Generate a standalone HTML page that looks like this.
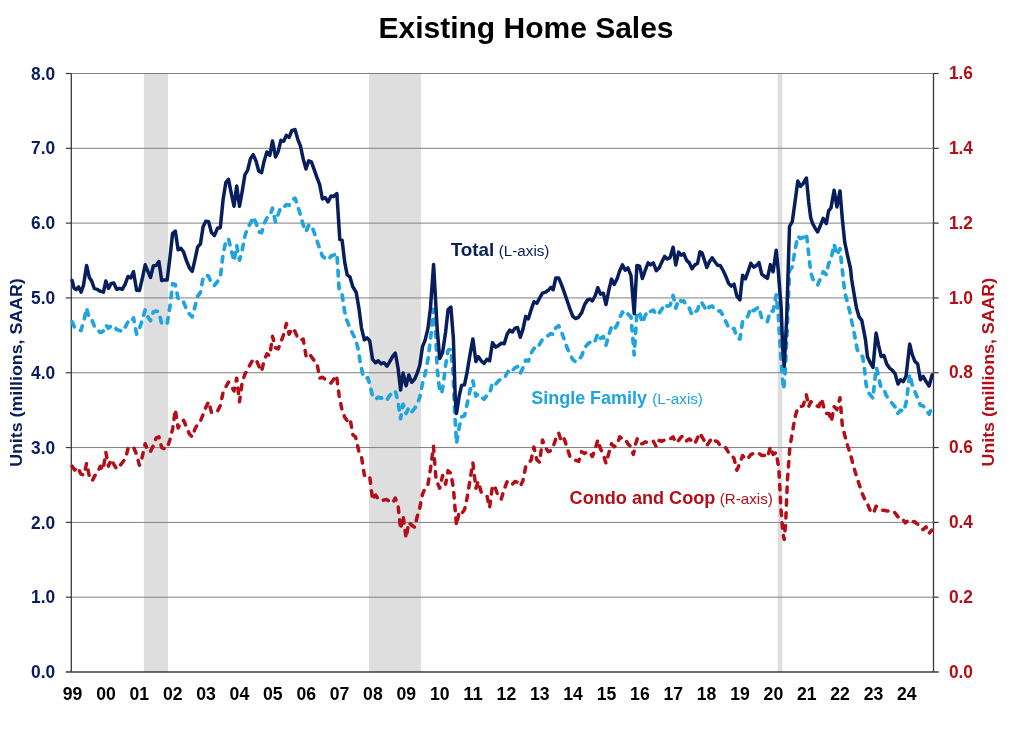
<!DOCTYPE html>
<html><head><meta charset="utf-8"><title>Existing Home Sales</title>
<style>html,body{margin:0;padding:0;background:#fff}svg{display:block;will-change:transform}text{font-family:"Liberation Sans",sans-serif}</style></head>
<body><svg width="1024" height="742" viewBox="0 0 1024 742">
<rect width="1024" height="742" fill="#fff"/>
<rect x="143.9" y="73.5" width="24.1" height="598.5" fill="#dedede"/>
<rect x="369.1" y="73.5" width="51.8" height="598.5" fill="#dedede"/>
<rect x="777.6" y="73.5" width="4.8" height="598.5" fill="#dedede"/>
<line x1="71.3" x2="933.5" y1="73.50" y2="73.50" stroke="#808080" stroke-width="1"/>
<line x1="71.3" x2="933.5" y1="148.31" y2="148.31" stroke="#808080" stroke-width="1"/>
<line x1="71.3" x2="933.5" y1="223.12" y2="223.12" stroke="#808080" stroke-width="1"/>
<line x1="71.3" x2="933.5" y1="297.94" y2="297.94" stroke="#808080" stroke-width="1"/>
<line x1="71.3" x2="933.5" y1="372.75" y2="372.75" stroke="#808080" stroke-width="1"/>
<line x1="71.3" x2="933.5" y1="447.56" y2="447.56" stroke="#808080" stroke-width="1"/>
<line x1="71.3" x2="933.5" y1="522.38" y2="522.38" stroke="#808080" stroke-width="1"/>
<line x1="71.3" x2="933.5" y1="597.19" y2="597.19" stroke="#808080" stroke-width="1"/>
<line x1="71.3" x2="71.3" y1="73.5" y2="672.0" stroke="#3a3a3a" stroke-width="1.3"/>
<line x1="933.5" x2="933.5" y1="73.5" y2="672.0" stroke="#3a3a3a" stroke-width="1.3"/>
<line x1="65.8" x2="938.7" y1="672.0" y2="672.0" stroke="#3a3a3a" stroke-width="1.3"/>
<line x1="65.8" x2="71.3" y1="73.50" y2="73.50" stroke="#3a3a3a" stroke-width="1.2"/>
<line x1="933.5" x2="938.7" y1="73.50" y2="73.50" stroke="#3a3a3a" stroke-width="1.2"/>
<line x1="65.8" x2="71.3" y1="148.31" y2="148.31" stroke="#3a3a3a" stroke-width="1.2"/>
<line x1="933.5" x2="938.7" y1="148.31" y2="148.31" stroke="#3a3a3a" stroke-width="1.2"/>
<line x1="65.8" x2="71.3" y1="223.12" y2="223.12" stroke="#3a3a3a" stroke-width="1.2"/>
<line x1="933.5" x2="938.7" y1="223.12" y2="223.12" stroke="#3a3a3a" stroke-width="1.2"/>
<line x1="65.8" x2="71.3" y1="297.94" y2="297.94" stroke="#3a3a3a" stroke-width="1.2"/>
<line x1="933.5" x2="938.7" y1="297.94" y2="297.94" stroke="#3a3a3a" stroke-width="1.2"/>
<line x1="65.8" x2="71.3" y1="372.75" y2="372.75" stroke="#3a3a3a" stroke-width="1.2"/>
<line x1="933.5" x2="938.7" y1="372.75" y2="372.75" stroke="#3a3a3a" stroke-width="1.2"/>
<line x1="65.8" x2="71.3" y1="447.56" y2="447.56" stroke="#3a3a3a" stroke-width="1.2"/>
<line x1="933.5" x2="938.7" y1="447.56" y2="447.56" stroke="#3a3a3a" stroke-width="1.2"/>
<line x1="65.8" x2="71.3" y1="522.38" y2="522.38" stroke="#3a3a3a" stroke-width="1.2"/>
<line x1="933.5" x2="938.7" y1="522.38" y2="522.38" stroke="#3a3a3a" stroke-width="1.2"/>
<line x1="65.8" x2="71.3" y1="597.19" y2="597.19" stroke="#3a3a3a" stroke-width="1.2"/>
<line x1="933.5" x2="938.7" y1="597.19" y2="597.19" stroke="#3a3a3a" stroke-width="1.2"/>
<text x="55.2" y="79.6" text-anchor="end" font-size="18.3" textLength="24.1" lengthAdjust="spacingAndGlyphs" font-weight="bold" fill="#081e5c">8.0</text>
<text x="948.9" y="79.1" font-size="18.3" textLength="24.1" lengthAdjust="spacingAndGlyphs" font-weight="bold" fill="#b40f18">1.6</text>
<text x="55.2" y="154.4" text-anchor="end" font-size="18.3" textLength="24.1" lengthAdjust="spacingAndGlyphs" font-weight="bold" fill="#081e5c">7.0</text>
<text x="948.9" y="153.9" font-size="18.3" textLength="24.1" lengthAdjust="spacingAndGlyphs" font-weight="bold" fill="#b40f18">1.4</text>
<text x="55.2" y="229.2" text-anchor="end" font-size="18.3" textLength="24.1" lengthAdjust="spacingAndGlyphs" font-weight="bold" fill="#081e5c">6.0</text>
<text x="948.9" y="228.7" font-size="18.3" textLength="24.1" lengthAdjust="spacingAndGlyphs" font-weight="bold" fill="#b40f18">1.2</text>
<text x="55.2" y="304.0" text-anchor="end" font-size="18.3" textLength="24.1" lengthAdjust="spacingAndGlyphs" font-weight="bold" fill="#081e5c">5.0</text>
<text x="948.9" y="303.5" font-size="18.3" textLength="24.1" lengthAdjust="spacingAndGlyphs" font-weight="bold" fill="#b40f18">1.0</text>
<text x="55.2" y="378.9" text-anchor="end" font-size="18.3" textLength="24.1" lengthAdjust="spacingAndGlyphs" font-weight="bold" fill="#081e5c">4.0</text>
<text x="948.9" y="378.4" font-size="18.3" textLength="24.1" lengthAdjust="spacingAndGlyphs" font-weight="bold" fill="#b40f18">0.8</text>
<text x="55.2" y="453.7" text-anchor="end" font-size="18.3" textLength="24.1" lengthAdjust="spacingAndGlyphs" font-weight="bold" fill="#081e5c">3.0</text>
<text x="948.9" y="453.2" font-size="18.3" textLength="24.1" lengthAdjust="spacingAndGlyphs" font-weight="bold" fill="#b40f18">0.6</text>
<text x="55.2" y="528.5" text-anchor="end" font-size="18.3" textLength="24.1" lengthAdjust="spacingAndGlyphs" font-weight="bold" fill="#081e5c">2.0</text>
<text x="948.9" y="528.0" font-size="18.3" textLength="24.1" lengthAdjust="spacingAndGlyphs" font-weight="bold" fill="#b40f18">0.4</text>
<text x="55.2" y="603.3" text-anchor="end" font-size="18.3" textLength="24.1" lengthAdjust="spacingAndGlyphs" font-weight="bold" fill="#081e5c">1.0</text>
<text x="948.9" y="602.8" font-size="18.3" textLength="24.1" lengthAdjust="spacingAndGlyphs" font-weight="bold" fill="#b40f18">0.2</text>
<text x="55.2" y="678.1" text-anchor="end" font-size="18.3" textLength="24.1" lengthAdjust="spacingAndGlyphs" font-weight="bold" fill="#081e5c">0.0</text>
<text x="948.9" y="677.6" font-size="18.3" textLength="24.1" lengthAdjust="spacingAndGlyphs" font-weight="bold" fill="#b40f18">0.0</text>
<text x="72.6" y="699.9" text-anchor="middle" font-size="18.6" textLength="19.6" lengthAdjust="spacingAndGlyphs" font-weight="bold" fill="#000">99</text>
<text x="106.0" y="699.9" text-anchor="middle" font-size="18.6" textLength="19.6" lengthAdjust="spacingAndGlyphs" font-weight="bold" fill="#000">00</text>
<text x="139.3" y="699.9" text-anchor="middle" font-size="18.6" textLength="19.6" lengthAdjust="spacingAndGlyphs" font-weight="bold" fill="#000">01</text>
<text x="172.7" y="699.9" text-anchor="middle" font-size="18.6" textLength="19.6" lengthAdjust="spacingAndGlyphs" font-weight="bold" fill="#000">02</text>
<text x="206.1" y="699.9" text-anchor="middle" font-size="18.6" textLength="19.6" lengthAdjust="spacingAndGlyphs" font-weight="bold" fill="#000">03</text>
<text x="239.4" y="699.9" text-anchor="middle" font-size="18.6" textLength="19.6" lengthAdjust="spacingAndGlyphs" font-weight="bold" fill="#000">04</text>
<text x="272.8" y="699.9" text-anchor="middle" font-size="18.6" textLength="19.6" lengthAdjust="spacingAndGlyphs" font-weight="bold" fill="#000">05</text>
<text x="306.2" y="699.9" text-anchor="middle" font-size="18.6" textLength="19.6" lengthAdjust="spacingAndGlyphs" font-weight="bold" fill="#000">06</text>
<text x="339.6" y="699.9" text-anchor="middle" font-size="18.6" textLength="19.6" lengthAdjust="spacingAndGlyphs" font-weight="bold" fill="#000">07</text>
<text x="372.9" y="699.9" text-anchor="middle" font-size="18.6" textLength="19.6" lengthAdjust="spacingAndGlyphs" font-weight="bold" fill="#000">08</text>
<text x="406.3" y="699.9" text-anchor="middle" font-size="18.6" textLength="19.6" lengthAdjust="spacingAndGlyphs" font-weight="bold" fill="#000">09</text>
<text x="439.7" y="699.9" text-anchor="middle" font-size="18.6" textLength="19.6" lengthAdjust="spacingAndGlyphs" font-weight="bold" fill="#000">10</text>
<text x="473.0" y="699.9" text-anchor="middle" font-size="18.6" textLength="19.6" lengthAdjust="spacingAndGlyphs" font-weight="bold" fill="#000">11</text>
<text x="506.4" y="699.9" text-anchor="middle" font-size="18.6" textLength="19.6" lengthAdjust="spacingAndGlyphs" font-weight="bold" fill="#000">12</text>
<text x="539.8" y="699.9" text-anchor="middle" font-size="18.6" textLength="19.6" lengthAdjust="spacingAndGlyphs" font-weight="bold" fill="#000">13</text>
<text x="573.1" y="699.9" text-anchor="middle" font-size="18.6" textLength="19.6" lengthAdjust="spacingAndGlyphs" font-weight="bold" fill="#000">14</text>
<text x="606.5" y="699.9" text-anchor="middle" font-size="18.6" textLength="19.6" lengthAdjust="spacingAndGlyphs" font-weight="bold" fill="#000">15</text>
<text x="639.9" y="699.9" text-anchor="middle" font-size="18.6" textLength="19.6" lengthAdjust="spacingAndGlyphs" font-weight="bold" fill="#000">16</text>
<text x="673.3" y="699.9" text-anchor="middle" font-size="18.6" textLength="19.6" lengthAdjust="spacingAndGlyphs" font-weight="bold" fill="#000">17</text>
<text x="706.6" y="699.9" text-anchor="middle" font-size="18.6" textLength="19.6" lengthAdjust="spacingAndGlyphs" font-weight="bold" fill="#000">18</text>
<text x="740.0" y="699.9" text-anchor="middle" font-size="18.6" textLength="19.6" lengthAdjust="spacingAndGlyphs" font-weight="bold" fill="#000">19</text>
<text x="773.4" y="699.9" text-anchor="middle" font-size="18.6" textLength="19.6" lengthAdjust="spacingAndGlyphs" font-weight="bold" fill="#000">20</text>
<text x="806.7" y="699.9" text-anchor="middle" font-size="18.6" textLength="19.6" lengthAdjust="spacingAndGlyphs" font-weight="bold" fill="#000">21</text>
<text x="840.1" y="699.9" text-anchor="middle" font-size="18.6" textLength="19.6" lengthAdjust="spacingAndGlyphs" font-weight="bold" fill="#000">22</text>
<text x="873.5" y="699.9" text-anchor="middle" font-size="18.6" textLength="19.6" lengthAdjust="spacingAndGlyphs" font-weight="bold" fill="#000">23</text>
<text x="906.8" y="699.9" text-anchor="middle" font-size="18.6" textLength="19.6" lengthAdjust="spacingAndGlyphs" font-weight="bold" fill="#000">24</text>
<text x="526" y="37.6" text-anchor="middle" font-size="30" font-weight="bold" fill="#000">Existing Home Sales</text>
<text transform="translate(21.8,372.6) rotate(-90)" text-anchor="middle" font-size="16.8" textLength="188.5" lengthAdjust="spacingAndGlyphs" font-weight="bold" fill="#081e5c">Units (millions, SAAR)</text>
<text transform="translate(994.3,372.2) rotate(-90)" text-anchor="middle" font-size="16.8" textLength="188.5" lengthAdjust="spacingAndGlyphs" font-weight="bold" fill="#b40f18">Units (millions, SAAR)</text>
<polyline fill="none" stroke="#b40f18" stroke-width="3.5" stroke-linejoin="round" stroke-linecap="round" stroke-dasharray="5.4 7.4" points="72.1,466.2 74.7,470.1 77.6,467.2 80.9,474.0 83.9,475.0 86.6,463.3 89.3,476.0 92.3,480.9 94.8,475.6 97.5,473.1 100.3,466.2 103.0,470.1 105.9,452.5 108.5,466.2 111.2,459.4 114.0,464.6 116.7,469.1 119.6,466.2 122.6,462.3 125.5,458.4 128.0,448.6 130.8,446.7 133.5,447.1 136.6,454.5 139.4,465.2 142.1,457.4 145.2,443.7 148.0,451.5 150.5,451.5 153.3,445.7 156.2,437.9 158.9,436.9 161.7,447.6 164.4,448.6 167.1,448.6 169.9,439.8 172.6,429.1 175.3,409.5 178.1,428.1 180.8,422.2 183.6,420.3 186.5,427.1 189.4,434.0 192.2,436.9 194.9,429.1 197.6,424.2 200.4,421.2 203.1,414.4 205.8,407.6 208.6,401.7 211.5,412.4 214.4,413.0 217.4,411.5 220.3,405.6 223.0,392.9 225.8,387.0 228.5,382.1 231.3,386.1 234.0,390.9 236.7,378.2 239.5,401.7 242.2,382.1 244.9,374.3 247.7,369.4 250.6,363.6 253.5,359.1 256.5,360.6 259.4,367.5 261.6,371.4 264.1,360.6 266.9,353.8 269.8,355.7 272.5,336.2 275.5,347.9 278.2,348.9 280.9,342.0 283.7,334.2 286.4,323.5 289.1,334.2 291.9,328.3 295.0,331.3 297.8,338.1 300.5,340.1 303.2,339.1 306.0,355.7 308.7,352.8 311.4,356.7 314.2,360.6 316.9,362.6 319.6,378.2 322.4,377.2 325.1,379.2 328.1,381.1 331.0,383.1 333.7,379.2 336.5,375.3 339.2,395.8 341.9,409.5 344.7,417.3 347.6,421.2 350.1,418.9 352.9,434.9 355.6,436.9 359.0,452.0 361.5,456.9 364.4,475.5 367.0,474.5 369.7,476.5 372.6,499.9 375.6,495.0 378.3,499.0 381.1,500.9 384.0,499.9 386.9,499.5 389.9,501.9 392.8,502.9 395.3,498.0 398.1,505.8 400.6,529.3 403.1,515.6 406.1,538.1 408.8,522.4 411.7,525.3 414.7,527.3 417.2,516.5 419.8,507.8 422.5,494.1 425.2,488.2 428.0,484.3 430.5,468.7 433.5,446.2 435.8,476.5 437.2,482.3 439.7,488.2 442.6,475.5 445.6,484.3 448.1,470.6 450.9,473.5 453.4,488.2 455.3,511.7 456.5,525.3 459.3,511.7 461.6,513.6 464.5,509.7 467.1,498.0 470.0,480.4 472.9,462.8 475.9,488.2 478.2,481.4 481.2,492.1 484.1,494.1 487.0,496.0 489.6,507.8 492.5,485.3 495.4,488.2 498.4,497.0 501.3,499.0 504.2,489.2 507.2,481.4 509.7,481.4 512.4,484.3 515.0,481.4 517.5,482.3 520.3,486.2 523.0,480.4 525.7,466.7 528.3,463.8 531.2,459.9 533.9,447.1 536.9,459.9 539.6,462.3 542.5,439.9 545.4,447.7 548.3,451.6 550.9,450.6 553.2,446.7 555.8,438.9 558.7,433.0 561.4,441.8 564.2,438.9 566.9,446.7 569.9,456.5 572.8,458.4 575.7,460.4 578.7,461.4 581.6,451.6 584.5,453.5 587.4,451.6 590.0,452.6 592.3,456.5 595.3,448.7 597.8,439.9 600.5,448.7 603.3,454.5 606.0,463.3 609.0,452.6 611.5,443.8 614.2,446.7 617.2,444.7 619.7,436.9 622.4,438.9 625.2,438.9 627.9,443.8 630.7,446.7 633.4,454.5 635.9,442.8 637.3,438.9 639.6,443.8 642.4,443.8 645.1,441.8 648.1,442.8 650.6,441.8 653.3,441.2 656.3,446.7 659.2,440.4 661.9,441.2 664.7,439.9 667.4,438.5 670.1,438.9 673.1,436.9 675.8,442.8 678.6,440.4 681.3,436.9 683.8,435.9 686.6,440.8 689.3,438.9 692.0,441.2 694.8,443.8 697.5,437.9 700.0,433.0 702.0,436.9 704.3,440.8 706.8,445.7 709.4,441.8 712.1,437.9 714.9,440.8 717.6,441.8 720.3,445.7 723.1,447.7 725.8,447.7 728.5,452.6 731.3,454.5 734.0,458.4 736.8,470.2 739.9,463.3 742.6,455.5 745.4,459.4 748.1,458.4 750.8,454.5 753.6,453.5 756.3,454.5 759.0,453.5 761.8,455.5 764.5,455.5 767.4,457.4 770.4,446.7 773.1,454.5 776.2,452.6 778.9,469.0 780.9,508.0 782.8,532.0 784.2,539.5 785.6,524.0 787.5,479.0 789.9,446.7 792.3,433.0 795.0,417.4 797.8,407.6 800.5,406.6 803.2,405.6 806.4,394.9 808.7,406.6 810.7,401.7 813.4,402.7 816.1,405.6 818.9,406.6 821.6,398.8 824.3,409.6 826.7,413.5 829.0,413.5 831.4,421.3 834.1,406.6 836.9,409.6 840.0,397.8 842.3,425.2 844.7,435.0 847.6,445.7 850.5,454.5 853.5,466.2 856.4,476.0 859.3,484.8 862.3,493.6 865.2,500.5 868.1,505.3 870.8,512.1 873.6,513.1 876.1,506.2 879.0,508.2 882.0,510.2 884.9,510.5 887.8,511.1 890.8,511.1 893.7,511.1 896.6,515.0 899.6,519.0 902.5,519.0 905.4,522.9 908.4,519.9 911.3,521.9 914.2,521.5 917.2,523.8 920.1,525.8 923.0,529.7 926.0,526.8 928.9,533.6 931.8,530.1"/>
<polyline fill="none" stroke="#1fa4de" stroke-width="3.7" stroke-linejoin="round" stroke-linecap="round" stroke-dasharray="5.4 7.4" points="72.1,321.8 74.7,327.6 77.6,328.6 80.9,330.6 83.9,320.8 86.6,308.1 89.3,318.8 92.3,320.8 94.8,327.6 97.5,329.6 100.3,332.5 103.0,331.5 105.9,325.1 108.5,328.2 111.2,325.7 114.0,325.7 116.7,329.6 119.6,330.6 122.6,331.5 125.5,326.7 128.0,321.8 130.8,322.8 133.5,317.9 136.6,334.1 139.4,328.6 142.1,320.8 145.2,310.0 148.0,316.9 150.5,320.8 153.3,312.0 156.2,311.0 158.9,312.0 161.7,323.7 164.4,324.7 167.1,323.7 169.9,307.1 172.6,283.7 175.3,284.6 178.1,298.3 180.8,298.3 183.6,302.2 186.5,309.1 189.4,314.0 192.2,316.9 194.9,307.1 197.6,296.4 200.4,292.4 203.1,277.8 205.8,274.9 208.6,276.2 211.5,283.7 214.4,285.6 217.4,281.7 220.3,277.8 223.0,254.3 225.8,241.6 228.5,238.7 231.3,250.4 234.0,261.2 236.7,245.5 239.5,260.2 242.2,250.4 244.9,235.8 247.7,227.9 250.6,223.0 253.2,217.0 256.1,222.9 258.7,231.7 261.6,232.7 264.1,223.9 266.9,218.0 269.8,216.1 272.5,208.2 275.5,221.9 278.2,214.1 280.9,207.3 283.7,207.3 286.4,204.7 289.1,205.3 291.9,200.4 295.0,198.1 297.8,206.3 300.5,215.1 303.2,224.9 306.0,231.7 308.7,225.4 311.4,224.9 314.2,232.7 316.9,240.5 319.6,248.3 322.4,256.1 325.1,258.1 328.1,260.0 331.0,256.1 333.7,255.2 336.9,253.2 339.2,290.3 341.9,293.3 344.7,311.9 346.8,320.0 349.8,327.8 352.7,333.7 355.6,339.6 358.2,349.3 360.5,364.0 363.1,375.7 365.4,378.7 367.8,377.7 370.3,386.5 372.6,396.2 375.6,399.2 378.3,397.2 381.1,398.2 384.0,397.2 386.9,399.8 389.9,395.3 392.8,392.3 395.3,390.8 398.1,402.1 400.6,418.7 403.1,404.1 406.1,413.5 408.8,407.6 411.7,411.9 414.7,408.4 417.2,404.1 419.8,397.2 422.5,383.5 425.2,373.8 428.0,359.1 430.5,339.6 433.5,309.4 435.8,335.6 437.2,368.9 439.7,390.4 441.7,393.3 443.6,382.6 445.6,365.0 448.1,350.3 450.9,349.3 453.0,372.8 454.4,406.0 456.5,443.6 459.3,426.5 461.6,416.8 464.5,415.8 467.1,404.1 470.0,390.4 472.9,381.0 475.9,396.2 478.2,393.9 481.2,397.2 484.1,399.2 487.0,395.3 489.6,393.9 492.5,382.6 495.4,384.5 498.4,381.0 501.3,378.7 504.2,378.3 507.2,372.8 509.7,368.9 512.4,370.4 515.0,367.9 517.5,366.5 520.3,373.2 523.0,367.9 525.7,360.1 528.3,361.1 531.2,353.2 533.9,348.3 536.9,348.9 539.6,344.3 542.5,339.4 545.4,337.4 548.3,335.5 550.9,333.5 553.2,334.5 555.8,327.7 558.7,325.7 561.4,331.6 564.2,339.4 566.9,347.2 569.9,354.1 572.8,359.5 575.7,361.9 578.7,359.9 581.6,356.0 584.5,348.2 587.4,344.3 590.0,342.3 592.3,343.9 595.3,340.4 597.8,333.5 600.5,338.4 603.3,336.5 606.0,345.3 609.0,334.5 611.5,326.7 614.2,329.6 617.2,324.7 619.7,317.9 622.4,312.0 625.2,315.9 627.9,314.0 631.0,316.9 634.2,355.0 636.9,312.0 639.6,313.0 642.4,322.8 645.1,315.9 648.1,310.1 650.6,311.4 653.3,310.1 656.3,315.0 659.2,313.0 661.9,309.1 664.7,304.2 667.4,306.2 670.1,305.2 673.1,295.4 675.8,308.1 678.6,299.3 681.3,301.3 683.8,300.9 686.6,306.2 689.3,308.1 692.0,315.0 694.8,312.0 697.5,310.1 700.0,302.0 702.0,303.0 704.3,306.9 706.8,310.8 709.4,306.9 712.1,305.9 714.9,309.8 717.6,311.2 720.3,310.8 723.1,315.7 725.8,321.5 728.5,327.4 731.3,329.4 734.0,328.4 736.8,337.2 739.9,339.1 742.6,321.5 745.4,319.6 748.1,315.7 750.8,307.9 753.6,310.8 756.3,308.8 759.0,306.9 761.8,318.6 764.5,320.2 767.4,321.5 770.4,310.8 773.1,311.2 776.2,294.8 778.3,315.0 780.3,348.0 782.3,376.0 783.7,389.3 785.2,372.0 786.9,336.0 789.5,270.7 792.3,266.8 795.0,250.2 797.8,236.1 800.5,238.5 803.2,237.5 806.4,233.6 808.7,254.1 810.7,271.7 812.6,278.5 815.3,283.0 817.7,285.0 820.4,278.5 823.2,271.7 826.3,274.6 828.6,263.9 831.0,259.0 834.1,244.3 836.9,255.1 840.0,248.6 842.3,269.7 844.7,292.2 847.6,303.0 850.5,314.7 851.4,320.0 853.0,326.9 855.1,337.9 857.1,348.9 859.2,353.7 862.6,356.5 864.3,366.8 866.1,384.6 868.1,392.2 873.0,398.4 874.3,384.6 876.4,367.5 878.5,376.4 880.5,386.0 884.0,388.8 886.0,395.0 888.8,399.1 891.5,402.5 895.0,406.7 897.7,413.5 900.5,410.1 903.9,411.5 906.4,401.2 909.7,374.3 912.2,384.6 914.9,391.5 917.7,398.4 920.4,405.3 923.2,406.0 925.9,409.4 929.1,414.2 932.1,406.7"/>
<polyline fill="none" stroke="#081e5c" stroke-width="3.5" stroke-linejoin="round" stroke-linecap="round" points="72.1,280.5 74.1,288.3 76.2,289.6 78.6,286.9 81.1,292.2 83.5,285.3 86.6,265.4 89.3,277.5 91.7,281.0 94.2,288.3 97.1,289.3 100.1,291.2 103.4,292.2 105.9,281.0 108.5,288.3 111.2,283.4 113.8,283.0 116.7,289.3 119.6,288.3 122.2,289.3 125.1,284.4 128.0,276.5 130.8,277.9 133.5,271.7 136.6,290.2 139.4,290.6 142.1,279.5 145.2,264.8 148.0,271.7 150.5,277.5 153.3,265.8 156.2,265.4 158.9,261.5 161.7,280.5 164.4,279.9 167.1,280.1 169.9,258.0 172.6,233.5 175.3,231.0 178.1,249.8 180.8,248.2 183.6,252.1 186.5,260.9 189.4,267.8 192.2,271.3 194.9,259.9 197.6,247.2 200.4,243.9 203.1,226.7 205.8,221.2 208.6,221.8 211.5,232.6 214.4,235.5 217.4,228.3 220.3,227.7 223.0,200.3 225.8,182.7 228.5,179.4 231.3,193.5 234.0,206.2 236.7,186.0 239.5,206.2 242.2,191.5 244.9,174.9 247.7,170.0 250.4,158.9 253.2,154.6 256.1,161.2 258.7,171.0 261.6,172.6 264.1,161.2 266.9,152.0 269.8,155.4 272.5,140.9 275.5,156.9 278.2,151.4 280.9,140.3 283.7,141.3 286.4,135.4 289.1,137.4 291.9,130.5 295.0,129.6 297.8,139.3 300.5,146.2 303.2,158.9 306.0,169.0 308.7,160.8 311.4,161.8 314.2,169.6 316.9,177.4 319.6,184.3 322.4,199.0 325.1,197.6 328.1,201.9 331.0,196.0 333.7,196.4 336.9,193.7 339.8,239.6 342.1,240.2 344.7,262.1 347.2,274.8 349.9,276.8 352.7,286.5 356.2,292.4 358.9,308.1 361.5,328.1 364.4,339.9 367.0,337.9 369.7,340.8 372.6,359.4 375.6,362.7 378.3,360.8 381.1,363.9 384.0,362.7 386.9,366.2 389.9,361.4 392.8,356.1 395.3,353.0 398.1,368.2 400.6,390.1 403.1,373.1 406.1,385.8 408.8,375.0 411.7,382.3 414.7,379.0 417.2,373.1 419.8,365.3 422.5,346.7 425.2,339.9 428.0,328.1 430.5,307.6 433.6,264.5 437.2,329.1 439.7,358.4 442.6,352.6 445.6,332.0 448.1,309.6 450.9,307.2 453.4,338.9 455.3,399.5 456.5,413.6 459.3,395.6 461.6,385.4 464.5,384.8 467.1,372.1 470.0,354.5 472.9,338.9 475.9,361.4 478.2,356.5 481.2,360.8 484.1,363.3 487.0,359.4 489.6,360.8 492.5,342.8 495.4,347.1 498.4,345.7 501.3,343.2 504.2,343.8 507.2,334.0 509.7,330.1 512.4,332.0 515.0,328.1 517.5,327.5 520.3,337.3 523.0,329.1 525.7,316.4 528.3,318.9 531.2,309.6 533.9,301.7 536.9,303.3 539.6,298.1 542.5,293.2 545.4,292.2 548.3,290.3 550.9,287.3 553.2,289.7 555.8,278.0 558.7,278.0 561.4,284.4 564.2,292.2 566.9,300.0 569.9,308.8 572.8,316.3 575.7,318.6 578.7,317.1 581.6,312.8 584.5,304.9 587.4,300.0 590.0,299.1 592.3,301.0 595.3,295.5 597.8,287.7 600.5,294.2 603.3,293.2 606.0,304.5 609.0,289.3 611.5,279.1 614.2,284.4 617.2,278.5 619.7,270.7 622.4,264.9 625.2,270.1 627.9,267.8 631.0,275.6 634.2,313.7 636.9,265.4 639.6,266.2 642.4,278.5 645.1,270.7 648.1,262.9 650.6,264.9 653.3,262.9 656.3,270.7 659.2,267.8 661.9,261.9 664.7,256.4 667.4,259.0 670.1,257.6 673.1,247.3 675.8,264.9 678.6,252.1 681.3,255.1 683.8,253.7 686.6,260.4 689.3,262.9 692.0,268.8 694.8,264.9 697.5,263.5 700.0,251.9 702.0,252.9 704.3,259.7 706.8,267.5 709.4,261.7 712.1,257.8 714.9,261.7 717.6,265.2 720.3,265.6 723.1,270.5 725.8,276.3 728.5,283.2 731.3,286.1 734.0,284.1 736.8,295.9 739.9,299.8 742.6,275.3 745.4,278.9 748.1,271.4 750.8,263.2 753.6,267.1 756.3,265.6 759.0,262.6 761.8,274.4 764.5,276.3 767.4,278.3 770.4,264.6 773.1,271.8 776.2,250.3 778.2,269.5 781.2,309.0 782.7,348.0 784.2,366.2 786.7,318.0 789.5,226.5 792.3,221.6 795.0,202.0 797.8,181.1 800.5,186.4 803.2,183.5 806.4,178.0 808.7,202.0 810.7,217.7 812.6,223.5 815.3,228.4 817.7,231.9 820.4,225.5 823.2,218.3 826.3,223.5 828.6,210.8 831.0,207.9 834.1,190.3 836.9,206.9 840.0,190.9 842.3,218.7 844.7,242.1 847.6,255.8 850.5,268.5 851.7,279.8 854.0,293.5 856.5,308.1 859.1,316.9 861.8,320.4 865.4,339.3 867.5,357.1 870.2,362.6 873.0,367.5 876.1,333.1 878.5,344.8 881.2,356.5 884.0,355.5 886.7,364.0 889.5,368.1 892.2,370.2 895.0,373.6 898.0,384.0 900.5,379.8 903.2,381.6 906.0,376.4 909.7,344.1 912.2,354.4 914.9,361.3 917.7,364.0 920.4,379.8 923.2,376.4 925.9,381.2 929.1,386.0 932.1,375.0"/>
<text x="450.7" y="256.4" font-size="17.8" textLength="43.6" lengthAdjust="spacingAndGlyphs" font-weight="bold" fill="#081e5c">Total</text>
<text x="498.8" y="256.4" font-size="15.2" fill="#081e5c">(L-axis)</text>
<text x="531.3" y="404.3" font-size="17.95" font-weight="bold" fill="#1fa4de">Single Family</text>
<text x="652.3" y="404.3" font-size="15.2" fill="#1fa4de">(L-axis)</text>
<text x="569.6" y="504" font-size="18.1" font-weight="bold" fill="#b40f18">Condo and Coop</text>
<text x="719.8" y="504" font-size="15.15" fill="#b40f18">(R-axis)</text>
</svg></body></html>
